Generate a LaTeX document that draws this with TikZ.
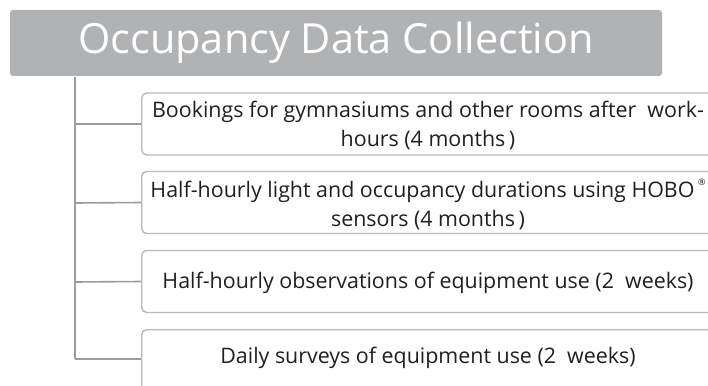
\documentclass[tikz,border=0pt]{standalone}
\usepackage{fontspec}
\setmainfont{Open Sans}
\newfontfamily\titlefont{Open Sans}
\definecolor{headgray}{HTML}{B1B2B4}
\definecolor{framegray}{HTML}{B8B8BA}
\definecolor{linegray}{HTML}{9C9C9E}
\definecolor{inkgray}{HTML}{231F20}
\tikzset{
  header/.style={fill=headgray, draw=none, rounded corners=3pt,
    minimum width=652pt, minimum height=66pt, inner sep=0pt,
    text=white, font=\titlefont\fontsize{41.5}{48}\selectfont},
  itembox/.style={draw=framegray, line width=1.4pt, fill=white,
    rounded corners=5pt, minimum width=574pt, minimum height=62pt,
    inner sep=0pt, anchor=west},
  itemtext/.style={text=inkgray, font=\fontsize{21.4}{29}\selectfont,
    align=center, inner sep=0pt},
  trunk/.style={draw=linegray, line width=1.6pt}
}
\newcommand{\regmark}{\raisebox{1.05ex}{\fontsize{9}{9}\selectfont\textregistered}}
\begin{document}
\begin{tikzpicture}[x=1pt, y=-1pt]
  \useasboundingbox (0,0) rectangle (708,385);
  \clip (0,0) rectangle (708,385);

  % title bar
  \node[header] (head) at (336,43) {Occupancy Data Collection};

  % tree trunk and branch points
  \coordinate (top) at (75,77);
  \coordinate (b1) at (75,124);
  \coordinate (b2) at (75,203);
  \coordinate (b3) at (75,282);
  \coordinate (b4) at (75,359);

  % item frames
  \node[itembox] (box1) at (141,124) {};
  \node[itembox] (box2) at (141,202.5) {};
  \node[itembox] (box3) at (141,281.5) {};
  \node[itembox, minimum height=80pt, anchor=north west] (box4) at (141,329) {};

  \draw[trunk] (top) -- (b4);
  \draw[trunk] (b1) -- (box1.west);
  \draw[trunk] (b2) -- (box2.west);
  \draw[trunk] (b3) -- (box3.west);
  \draw[trunk] (b4) -- (b4 -| box4.west);

  % item texts
  \node[itemtext] (t1) at (428,126) {Bookings for gymnasiums and other rooms after\ \ work-\\hours (4 months\,)};
  \node[itemtext] (t2) at (428,204) {Half-hourly light and occupancy durations using HOBO\,\regmark\\sensors (4 months\,)};
  \node[itemtext] (t3) at (428,283) {Half-hourly observations of equipment use (2\ \ weeks)};
  \node[itemtext] (t4) at (428,358) {Daily surveys of equipment use (2\ \ weeks)};
\end{tikzpicture}
\end{document}
